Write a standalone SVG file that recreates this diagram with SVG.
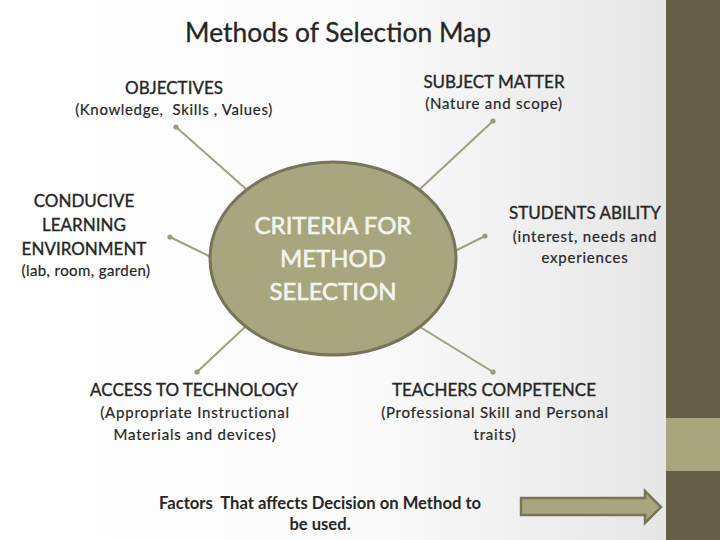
<svg xmlns="http://www.w3.org/2000/svg" width="720" height="540" viewBox="0 0 720 540">
  <defs>
    <linearGradient id="bg" x1="0" y1="0" x2="1" y2="0">
      <stop offset="0" stop-color="#ffffff"/>
      <stop offset="0.55" stop-color="#fbfbfb"/>
      <stop offset="1" stop-color="#e6e6e6"/>
    </linearGradient>
    <marker id="dot" viewBox="0 0 6 6" refX="3" refY="3" markerWidth="6" markerHeight="6" markerUnits="userSpaceOnUse">
      <circle cx="3" cy="3" r="2.6" fill="#9c9a7c"/>
    </marker>
  </defs>
  <style>
    text { font-family: Lato, "Liberation Sans", sans-serif; fill: #262626; text-anchor: middle; white-space: pre; }
    .head { font-size: 17px; stroke: #262626; stroke-width: 0.35; }
    .sub { font-size: 15px; letter-spacing: 0.8px; stroke: #262626; stroke-width: 0.2; }
    .title { font-size: 26.4px; stroke: #262626; stroke-width: 0.3; }
    .center { font-size: 24px; fill: #f4f4ee; stroke: #f4f4ee; stroke-width: 0.6; }
    .foot { font-size: 16.6px; font-weight: bold; }
    .conn { stroke: #a09f82; stroke-width: 2; fill: none; marker-end: url(#dot); }
  </style>
  <rect x="0" y="0" width="666" height="540" fill="url(#bg)"/>
  <rect x="666" y="0" width="54" height="418" fill="#665f48"/>
  <rect x="666" y="418" width="54" height="53" fill="#a8a67e"/>
  <rect x="666" y="471" width="54" height="69" fill="#665f48"/>

  <text class="title" x="338" y="42">Methods of Selection Map</text>

  <g id="connectors">
    <line class="conn" x1="246" y1="189" x2="176" y2="127"/>
    <line class="conn" x1="211" y1="257" x2="170" y2="237"/>
    <line class="conn" x1="245" y1="327" x2="197" y2="372"/>
    <line class="conn" x1="420" y1="189" x2="493" y2="121"/>
    <line class="conn" x1="455" y1="251" x2="485" y2="236"/>
    <line class="conn" x1="420" y1="327" x2="493" y2="372"/>
  </g>

  <g id="criteria">
    <ellipse cx="333" cy="258.5" rx="123" ry="96.5" fill="#a8a67e" stroke="#77745a" stroke-width="3"/>
    <text class="center" x="333" y="234">CRITERIA FOR</text>
    <text class="center" x="333" y="267">METHOD</text>
    <text class="center" x="333" y="300">SELECTION</text>
  </g>

  <g id="objectives">
    <text class="head" x="174" y="94">OBJECTIVES</text>
    <text class="sub" x="174" y="115" style="letter-spacing:0.65px">(Knowledge,  Skills , Values)</text>
  </g>

  <g id="subject-matter">
    <text class="head" x="494" y="88">SUBJECT MATTER</text>
    <text class="sub" x="494" y="109">(Nature and scope)</text>
  </g>

  <g id="learning-environment">
    <text class="head" x="84" y="207">CONDUCIVE</text>
    <text class="head" x="84" y="231">LEARNING</text>
    <text class="head" x="84" y="255">ENVIRONMENT</text>
    <text class="sub" x="86" y="276" style="letter-spacing:0.4px">(lab, room, garden)</text>
  </g>

  <g id="students-ability">
    <text class="head" x="585" y="219">STUDENTS ABILITY</text>
    <text class="sub" x="585" y="242">(interest, needs and</text>
    <text class="sub" x="585" y="263">experiences</text>
  </g>

  <g id="access-technology">
    <text class="head" x="194" y="396">ACCESS TO TECHNOLOGY</text>
    <text class="sub" x="195" y="418">(Appropriate Instructional</text>
    <text class="sub" x="195" y="440">Materials and devices)</text>
  </g>

  <g id="teachers-competence">
    <text class="head" x="494" y="396">TEACHERS COMPETENCE</text>
    <text class="sub" x="495" y="418">(Professional Skill and Personal</text>
    <text class="sub" x="495" y="440">traits)</text>
  </g>

  <g id="factors">
    <text class="foot" x="320" y="509">Factors  That affects Decision on Method to</text>
    <text class="foot" x="320" y="530">be used.</text>
    <path d="M521,498 H645 V491 L661,507 L645,523 V515 H521 Z" fill="#a8a67e" stroke="#77745a" stroke-width="2.5" stroke-linejoin="miter"/>
  </g>
</svg>
